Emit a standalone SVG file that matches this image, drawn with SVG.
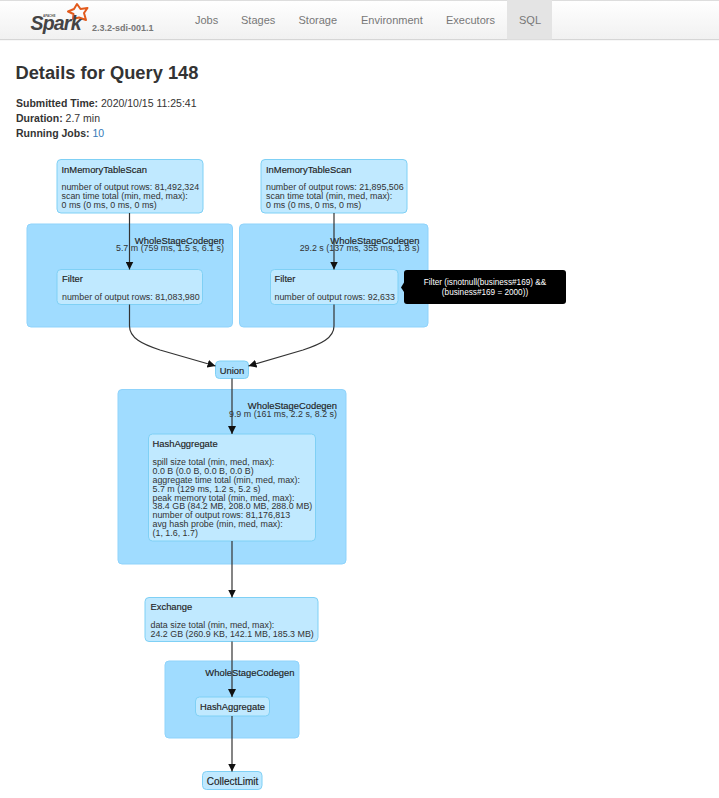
<svg xmlns="http://www.w3.org/2000/svg" width="719" height="798" viewBox="0 0 719 798">
<style>
text{font-family:"Liberation Sans",Arial,sans-serif;font-size:8.9px;fill:#333}
.nav{font-size:11px;fill:#777}
.cl{fill:#a0dcff;stroke:#8fd3fb;stroke-width:1}
.nd{fill:#c0e9ff;stroke:#7fd0f5;stroke-width:1}
.t{fill:#222;font-size:9.4px;stroke:#222;stroke-width:.15}
.cn{fill:none;stroke:#333;stroke-width:1.2;marker-end:url(#a)}
.e{text-anchor:end}
.m{text-anchor:middle}
.h{font-size:10.500px}
.b{font-weight:bold;font-size:10.500px;fill:#333}
</style>
<defs>
<linearGradient id="g" x1="0" y1="0" x2="0" y2="1"><stop offset="0" stop-color="#ffffff"/><stop offset="1" stop-color="#f1f1f1"/></linearGradient>
<marker id="a" markerUnits="userSpaceOnUse" markerWidth="9" markerHeight="8" refX="8" refY="4" orient="auto"><path d="M0 0L8 4L0 8z" fill="#111"/></marker>
</defs>
<rect width="719" height="798" fill="#fff"/>
<g id="navbar">
<rect x="0" y="0" width="719" height="39.500" fill="url(#g)"/>
<rect x="0" y="0" width="719" height="1" fill="#ddd"/>
<rect x="0" y="39" width="719" height="1.200" fill="#d6d6d6"/>
<rect x="507" y="0" width="45" height="39.500" fill="#e4e4e4"/>
<path d="M77 4L80.500 9L87.500 8L84 13L86 20L79 17.500L73 19L73.500 14L68 11.500L74 9z" fill="none" stroke="#e25a1c" stroke-width="2" stroke-linejoin="round"/>
<text x="30.500" y="29.500" style="font-size:19.500px;font-style:italic;font-weight:bold;fill:#444;letter-spacing:-.8px">Spark</text>
<text x="43" y="16.500" style="font-size:3px;font-weight:bold;fill:#555">APACHE</text>
<text x="92" y="31" style="font-size:9px;fill:#777;font-weight:bold">2.3.2-sdi-001.1</text>
<text class="nav" x="195" y="24">Jobs</text>
<text class="nav" x="241" y="24">Stages</text>
<text class="nav" x="298.500" y="24">Storage</text>
<text class="nav" x="361" y="24">Environment</text>
<text class="nav" x="446" y="24">Executors</text>
<text class="nav" x="519" y="24">SQL</text>
</g>
<g id="header">
<text x="15.500" y="79" style="font-size:18.300px;font-weight:bold;fill:#333">Details for Query 148</text>
<text class="h" x="16" y="107"><tspan class="b">Submitted Time:</tspan> 2020/10/15 11:25:41</text>
<text class="h" x="16" y="122"><tspan class="b">Duration:</tspan> 2.7 min</text>
<text class="h" x="16" y="137"><tspan class="b">Running Jobs:</tspan> <tspan fill="#337ab7">10</tspan></text>
</g>
<g id="cluster1"><rect class="cl" x="27" y="224" width="205.500" height="103" rx="4"/><text class="t e" x="224" y="243.500">WholeStageCodegen</text><text class="e" x="224" y="251">5.7 m (759 ms, 1.5 s, 6.1 s)</text></g>
<g id="cluster2"><rect class="cl" x="239.500" y="224" width="188.500" height="103" rx="4"/><text class="t e" x="419.500" y="243.500">WholeStageCodegen</text><text class="e" x="419.500" y="251">29.2 s (137 ms, 355 ms, 1.8 s)</text></g>
<g id="cluster3"><rect class="cl" x="118" y="389.500" width="228" height="174.500" rx="4"/><text class="t e" x="337" y="408.500">WholeStageCodegen</text><text class="e" x="337" y="417">9.9 m (161 ms, 2.2 s, 8.2 s)</text></g>
<g id="cluster4"><rect class="cl" x="165" y="661" width="134" height="77" rx="4"/><text class="t e" x="294.500" y="675.500">WholeStageCodegen</text></g>
<g id="scan1"><rect class="nd" x="57" y="159.500" width="146" height="53.500" rx="4"/><text class="t" x="61.500" y="173">InMemoryTableScan</text><text x="61.500" y="190">number of output rows: 81,492,324</text><text x="61.500" y="199">scan time total (min, med, max):</text><text x="61.500" y="208">0 ms (0 ms, 0 ms, 0 ms)</text></g>
<g id="scan2"><rect class="nd" x="261" y="159.500" width="146" height="53.500" rx="4"/><text class="t" x="266" y="173">InMemoryTableScan</text><text x="266" y="190">number of output rows: 21,895,506</text><text x="266" y="199">scan time total (min, med, max):</text><text x="266" y="208">0 ms (0 ms, 0 ms, 0 ms)</text></g>
<g id="filter1"><rect class="nd" x="57" y="269.500" width="145.500" height="35" rx="4"/><text class="t" x="62" y="282">Filter</text><text x="62" y="300">number of output rows: 81,083,980</text></g>
<g id="filter2"><rect class="nd" x="270.500" y="269.500" width="127.500" height="35" rx="4"/><text class="t" x="274.500" y="282">Filter</text><text x="274.500" y="300">number of output rows: 92,633</text></g>
<g id="union"><rect class="nd" x="215.500" y="361" width="33" height="17.500" rx="4" style="fill:#a8e0ff"/><text class="t m" x="232" y="374">Union</text></g>
<g id="hashagg1"><rect class="nd" x="148.500" y="434" width="167" height="107" rx="4"/><text class="t" x="152.500" y="447">HashAggregate</text>
<text x="152.500" y="465">spill size total (min, med, max):</text><text x="152.500" y="473.500">0.0 B (0.0 B, 0.0 B, 0.0 B)</text><text x="152.500" y="482.500">aggregate time total (min, med, max):</text><text x="152.500" y="491.500">5.7 m (129 ms, 1.2 s, 5.2 s)</text><text x="152.500" y="500.500">peak memory total (min, med, max):</text><text x="152.500" y="509">38.4 GB (84.2 MB, 208.0 MB, 288.0 MB)</text><text x="152.500" y="518">number of output rows: 81,176,813</text><text x="152.500" y="527">avg hash probe (min, med, max):</text><text x="152.500" y="536">(1, 1.6, 1.7)</text></g>
<g id="exchange"><rect class="nd" x="145" y="597.500" width="173" height="44" rx="4"/><text class="t" x="150.500" y="610">Exchange</text><text x="150.500" y="628">data size total (min, med, max):</text><text x="150.500" y="637">24.2 GB (260.9 KB, 142.1 MB, 185.3 MB)</text></g>
<g id="hashagg2"><rect class="nd" x="195.500" y="697" width="74" height="19" rx="4"/><text class="t m" x="232.500" y="710">HashAggregate</text></g>
<g id="collectlimit"><rect class="nd" x="202.500" y="771.500" width="59.500" height="18" rx="4"/><text class="t m" x="232.500" y="784.500" style="font-size:10px">CollectLimit</text></g>
<g id="connectors">
<path class="cn" d="M129.500 213V269.500"/>
<path class="cn" d="M334 213V269.500"/>
<path class="cn" d="M129.500 304.500V326C129.500 338 142 344 160 350L215.500 366"/>
<path class="cn" d="M334 304.500V326C334 338 321 344 303 350L248.500 366"/>
<path class="cn" d="M232 378.500V434"/>
<path class="cn" d="M232 541V597.500"/>
<path class="cn" d="M232 641.500V697"/>
<path class="cn" d="M232 716V771.500"/>
</g>
<g id="tooltip">
<path d="M404 282.500L401 287.500L404 292z" fill="#000"/>
<rect x="404" y="270" width="162" height="34" rx="3" fill="#000"/>
<text class="m" x="485" y="284.500" style="fill:#fff;font-size:8.200px">Filter (isnotnull(business#169) &amp;&amp;</text>
<text class="m" x="485" y="295" style="fill:#fff;font-size:8.200px">(business#169 = 2000))</text>
</g>
</svg>
